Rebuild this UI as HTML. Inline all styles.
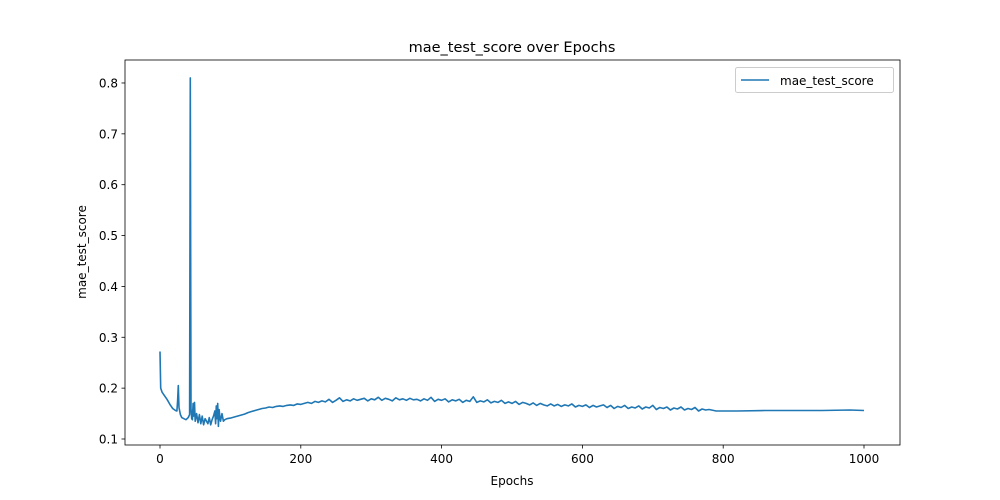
<!DOCTYPE html>
<html><head><meta charset="utf-8"><style>
body{margin:0;background:#fff;}
svg{display:block;font-family:"DejaVu Sans","Liberation Sans",sans-serif;}
</style></head><body>
<svg id="chart" width="1000" height="500">
<rect width="1000" height="500" fill="#fff"/>
<text x="512" y="52" font-size="14.5" text-anchor="middle">mae_test_score over Epochs</text>
<text x="512" y="485" font-size="12" text-anchor="middle">Epochs</text>
<text transform="translate(86,252) rotate(-90)" font-size="12" text-anchor="middle">mae_test_score</text>
<g id="ticks"></g>
<path id="line" fill="none" stroke="#1f77b4" stroke-width="1.6" stroke-linejoin="round"/>
<rect x="125" y="60" width="775" height="385" fill="none" stroke="#000" stroke-width="0.8"/>
<g>
<rect x="735.5" y="67.5" width="158" height="25" rx="2" fill="#fff" stroke="#ccc"/>
<line x1="741" y1="80" x2="769" y2="80" stroke="#1f77b4" stroke-width="1.6"/>
<text x="780" y="85" font-size="12">mae_test_score</text>
</g>
</svg>
<script>
const xTicks=[0,200,400,600,800,1000];
const yTicks=[0.1,0.2,0.3,0.4,0.5,0.6,0.7,0.8];
const epochsEarly=[0,1,3,6,10,14,18,22,24,25,26,27,29,31,34,37,40,42,43,44,45,46,47,48,49,50,52,54,56,58,60,62,64,66,68,70,72,74,76,78,79,80,81,82,83,84,85,86,88,90,92,95];
const valuesEarly=[0.272,0.2,0.192,0.186,0.178,0.168,0.16,0.156,0.155,0.175,0.205,0.162,0.148,0.142,0.14,0.138,0.142,0.148,0.81,0.16,0.14,0.138,0.17,0.145,0.172,0.135,0.15,0.132,0.148,0.13,0.145,0.128,0.14,0.135,0.13,0.142,0.128,0.138,0.145,0.155,0.13,0.165,0.14,0.17,0.125,0.158,0.145,0.135,0.15,0.135,0.138,0.14];
const epochsMid=[];for(let e=100;e<=780;e+=5)epochsMid.push(e);
const valuesMid=[0.141,0.143,0.145,0.147,0.149,0.152,0.154,0.156,0.158,0.16,0.161,0.163,0.162,0.164,0.165,0.164,0.166,0.167,0.166,0.169,0.168,0.17,0.172,0.17,0.174,0.172,0.175,0.173,0.178,0.172,0.176,0.181,0.174,0.177,0.175,0.179,0.176,0.178,0.18,0.175,0.179,0.177,0.182,0.176,0.18,0.178,0.175,0.181,0.177,0.179,0.176,0.18,0.177,0.178,0.175,0.179,0.176,0.182,0.174,0.178,0.176,0.179,0.173,0.177,0.175,0.178,0.172,0.176,0.174,0.183,0.172,0.175,0.173,0.177,0.171,0.174,0.172,0.176,0.17,0.173,0.17,0.174,0.168,0.172,0.17,0.167,0.171,0.166,0.17,0.167,0.165,0.169,0.165,0.168,0.164,0.167,0.165,0.169,0.163,0.166,0.164,0.167,0.162,0.166,0.163,0.165,0.167,0.162,0.166,0.16,0.164,0.162,0.166,0.16,0.163,0.161,0.165,0.159,0.163,0.161,0.166,0.158,0.162,0.16,0.163,0.157,0.161,0.159,0.163,0.157,0.16,0.158,0.162,0.155,0.159,0.157,0.158];
const epochsLate=[790,820,860,900,940,980,1000];
const valuesLate=[0.155,0.155,0.156,0.156,0.156,0.157,0.156];
const X=v=>160+v*0.704, Y=v=>439-(v-0.1)*508.6;
const svg=document.getElementById('chart'),tg=document.getElementById('ticks'),NS='http://www.w3.org/2000/svg';
function mk(t,a){const e=document.createElementNS(NS,t);for(const k in a)e.setAttribute(k,a[k]);tg.appendChild(e);return e;}
xTicks.forEach(t=>{const l=mk('line',{x1:X(t),x2:X(t),y1:445,y2:448.5,stroke:'#000','stroke-width':0.8});


const s=mk('text',{x:X(t),y:463,'font-size':12,'text-anchor':'middle'});s.textContent=t;

});
yTicks.forEach(t=>{const l=mk('line',{x1:121.5,x2:125,y1:Y(t),y2:Y(t),stroke:'#000','stroke-width':0.8});


const s=mk('text',{x:118,y:Y(t)+4.5,'font-size':12,'text-anchor':'end'});s.textContent=t.toFixed(1);

});
const ep=epochsEarly.concat(epochsMid,epochsLate),va=valuesEarly.concat(valuesMid,valuesLate);
document.getElementById('line').setAttribute('d',ep.map((e,i)=>(i?'L':'M')+X(e).toFixed(1)+','+Y(va[i]).toFixed(1)).join(''));
</script>
</body></html>
